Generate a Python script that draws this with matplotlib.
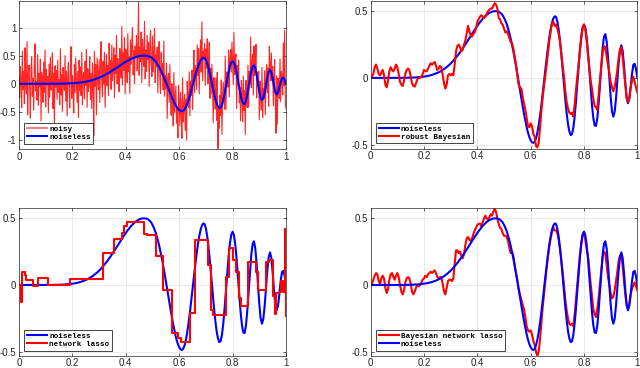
#!/usr/bin/env python3
"""
Noisy / noiseless signal and three reconstructions (2x2 panels, MATLAB look)
"""

import numpy as np
import matplotlib
matplotlib.use("Agg")
import matplotlib.pyplot as plt

# noiseless signal, sampled every 0.005 on [0, 1]
noiseless = [
    0, 0, 0, 0, 0, 0, 0, 0, 0, 0,
    0, 0, 0, 0, 0, 0, 0, 0, 0, 0,
    0.0003, 0.0004, 0.0005, 0.0006, 0.0007, 0.0009, 0.0011, 0.0013, 0.0015, 0.0017,
    0.002, 0.0024, 0.0028, 0.0034, 0.004, 0.0046, 0.0054, 0.0064, 0.0074, 0.0086,
    0.010, 0.0116, 0.0133, 0.0153, 0.0176, 0.0201, 0.0229, 0.0261, 0.0296, 0.0335,
    0.0377, 0.0425, 0.0476, 0.0533, 0.0595, 0.0661, 0.0734, 0.0813, 0.0896, 0.0986,
    0.108, 0.118, 0.129, 0.141, 0.153, 0.165, 0.178, 0.192, 0.206, 0.221,
    0.236, 0.251, 0.267, 0.282, 0.298, 0.314, 0.330, 0.346, 0.361, 0.376,
    0.391, 0.405, 0.418, 0.431, 0.443, 0.454, 0.464, 0.473, 0.480, 0.487,
    0.492, 0.496, 0.499, 0.500, 0.500, 0.499, 0.496, 0.490, 0.481, 0.469,
    0.451, 0.430, 0.404, 0.372, 0.336, 0.295, 0.249, 0.200, 0.146, 0.089,
    0.030, -0.031, -0.092, -0.153, -0.212, -0.269, -0.321, -0.369, -0.410, -0.443,
    -0.467, -0.482, -0.487, -0.478, -0.453, -0.411, -0.354, -0.285, -0.207, -0.120,
    -0.030, 0.061, 0.149, 0.231, 0.304, 0.366, 0.414, 0.446, 0.462, 0.458,
    0.424, 0.363, 0.279, 0.177, 0.063, -0.053, -0.165, -0.264, -0.345, -0.400,
    -0.428, -0.422, -0.374, -0.289, -0.174, -0.042, 0.092, 0.216, 0.314, 0.378,
    0.400, 0.375, 0.302, 0.193, 0.059, -0.079, -0.205, -0.301, -0.356, -0.360,
    -0.302, -0.191, -0.048, 0.101, 0.228, 0.309, 0.328, 0.274, 0.157, 0.004,
    -0.144, -0.251, -0.290, -0.254, -0.156, -0.023, 0.111, 0.209, 0.245, 0.203,
    0.095, -0.040, -0.148, -0.190, -0.156, -0.071, 0.029, 0.098, 0.106, 0.067,
    0.000,
]

# noisy observations, sampled every 0.0025 on [0, 1]
noisy = [
    0.12, -0.25, 0.31, 0.05, -0.42, 0.58, -0.1, 0.22, -0.35, 0.64, 0.02, -0.18, 0.75, -0.55, 0.15, 0.33, -0.08, -0.61, 0.27, 0.48,
    -0.22, 0.09, -0.47, 0.36, 0.71, -0.13, 0.04, -0.29, 0.52, -0.38, 0.18, -0.05, 0.44, -0.66, 0.21, 0.07, -0.33, 0.39, -0.16, 0.6,
    -0.41, 0.26, -0.02, 0.13, -0.52, 0.35, -0.24, 0.47, -0.11, 0.03, 0.55, -0.44, 0.19, -0.7, 0.32, -0.06, 0.24, -0.28, 0.42, -0.15,
    0.08, -0.37, 0.62, -0.2, 0.16, -0.49, 0.29, 0.01, -0.12, 0.5, -0.31, 0.23, -0.57, 0.11, 0.38, -0.09, -0.43, 0.27, 0.66, -0.26,
    0.15, -0.03, -0.52, 0.35, -0.16, 0.46, 0.08, -0.33, 0.22, -0.60, 0.42, -0.12, 0.30, -0.21, 0.56, -0.37, 0.13, 0.20, -0.27, 0.40,
    -0.03, 0.61, -0.42, 0.27, -0.14, 0.09, 0.48, -0.28, 0.18, -0.44, 0.37, 0.06, -0.92, 0.57, -0.04, 0.34, -0.55, 0.46, 0.19, -0.11,
    0.43, -0.33, 0.30, 0.75, 0.05, -0.23, 0.40, 0.00, 0.56, -0.42, 0.24, 0.52, -0.04, 0.33, -0.21, 0.72, 0.16, 0.42, -0.10, 0.69,
    0.06, 0.27, 0.64, -0.25, 0.51, 0.18, 0.86, 0.00, 0.45, 0.28, -0.14, 0.63, 0.41, 0.10, 1.02, -0.02, 0.55, 0.24, 0.82, -0.18,
    0.62, 0.51, 0.02, 0.89, 0.22, 0.48, -0.17, 0.78, 0.35, 0.72, 1.00, 0.16, 0.59, 0.00, 0.67, 0.46, 0.86, 0.23, 0.55, 1.45,
    0.15, 0.65, 0.39, 0.92, 0.02, 0.79, 0.52, 0.31, 1.11, 0.09, 0.60, 0.22, 0.86, 0.43, 0.74, -0.05, 0.66, 0.95, 0.33, 0.13,
    0.85, 0.21, 0.50, 0.98, 0.02, 0.51, 0.30, 0.65, -0.16, 0.54, 0.75, 0.10, -0.17, 0.56, 0.16, 0.36, -0.11, 0.76, -0.22, 0.15,
    -0.09, 0.37, -0.62, 0.09, 0.19, -0.33, 0.34, -0.26, -0.56, 0.00, -0.23, -0.75, 0.20, -0.51, -0.26, -0.04, -0.70, -0.41, -0.96, -0.03,
    -0.30, -0.75, -0.15, -0.52, -0.97, 0.11, -0.68, -0.39, -0.19, -0.83, -0.27, -1.00, 0.04, -0.27, -0.42, 0.21, -0.57, 0.05, -0.21, 0.24,
    -0.46, 0.12, 0.60, -0.15, 0.33, 0.13, -0.10, 0.69, 0.15, 0.63, -0.18, 0.42, 0.78, 0.21, 1.10, 0.06, 0.58, 0.44, 0.71, -0.03,
    0.62, 0.28, 0.80, 0.00, 0.34, 0.74, -0.26, 0.28, -0.18, 0.35, -0.10, -0.69, 0.11, -0.09, -0.45, 0.10, -0.65, 0.20, -1.15, -0.40,
    -0.79, -0.20, -0.56, 0.07, -0.90, -0.24, 0.03, -0.30, -0.45, 0.49, -0.46, 0.21, 0.14, -0.06, 0.60, -0.23, 0.45, 0.61, 0.21, 0.74,
    0.36, -0.01, 0.91, 0.16, 0.41, 0.53, -0.44, 0.33, -0.02, 0.42, -0.34, -0.07, -0.66, 0.06, -0.15, -0.67, 0.14, -0.48, -0.12, -0.90,
    0.06, -0.23, -0.42, 0.33, -0.42, 0.22, 0.00, 0.83, -0.07, 0.35, 0.53, -0.20, 0.67, 0.15, 0.31, 0.70, -0.25, 0.21, -0.03, 0.22,
    -0.64, 0.05, -0.15, -0.47, 0.29, -0.60, -0.08, -0.27, 0.23, -0.55, 0.01, 0.34, -0.16, 0.28, -0.40, 0.67, 0.32, 0.06, 0.55, 0.06,
    0.31, -0.39, 0.10, 0.43, -0.39, -0.88, 0.14, -0.72, 0.10, -0.02, -0.26, 0.44, -0.32, 0.22, 0.12, -0.20, 0.73, -0.04, 0.95, -0.35,
    -0.45,
]

# robust Bayesian estimate, every 0.005
robust_bayes = [
    0.00, 0.01, 0.03, 0.08, 0.10, 0.07, 0.03, 0.02, 0.04, 0.06,
    0.02, -0.05, -0.07, -0.02, 0.05, 0.08, 0.06, 0.05, 0.07, 0.10,
    0.08, 0.03, -0.03, -0.05, -0.06, -0.02, 0.03, 0.06, 0.07, 0.06,
    0.01, -0.04, -0.06, -0.065, -0.04, -0.01, 0.00, 0.00, 0.01, 0.03,
    0.06, 0.05, 0.05, 0.07, 0.09, 0.11, 0.10, 0.11, 0.12, 0.09,
    0.06, 0.07, 0.09, 0.08, 0.02, -0.04, -0.08, -0.05, 0.02, 0.03,
    0.02, 0.03, 0.02, 0.10, 0.20, 0.24, 0.25, 0.23, 0.20, 0.21,
    0.25, 0.28, 0.33, 0.39, 0.35, 0.32, 0.31, 0.33, 0.34, 0.37,
    0.42, 0.44, 0.46, 0.47, 0.46, 0.45, 0.46, 0.48, 0.50, 0.51,
    0.52, 0.52, 0.54, 0.56, 0.55, 0.52, 0.45, 0.44, 0.41, 0.40,
    0.37, 0.34, 0.35, 0.33, 0.30, 0.27, 0.26, 0.22, 0.16, 0.10,
    0.02, -0.05, -0.07, -0.08, -0.14, -0.19, -0.24, -0.30, -0.36, -0.37,
    -0.34, -0.36, -0.42, -0.44, -0.51, -0.52, -0.49, -0.38, -0.25, -0.15,
    -0.06, 0.02, 0.10, 0.19, 0.28, 0.35, 0.41, 0.42, 0.39, 0.40,
    0.37, 0.33, 0.27, 0.18, 0.09, 0.01, -0.10, -0.18, -0.23, -0.26,
    -0.27, -0.26, -0.29, -0.20, -0.09, 0.01, 0.11, 0.21, 0.30, 0.38,
    0.40, 0.37, 0.28, 0.17, 0.08, -0.02, -0.08, -0.16, -0.21, -0.22,
    -0.24, -0.12, -0.01, 0.09, 0.19, 0.24, 0.23, 0.16, 0.10, 0.04,
    -0.03, -0.07, -0.10, -0.07, -0.01, 0.06, 0.15, 0.21, 0.23, 0.15,
    0.05, -0.05, -0.15, -0.18, -0.15, -0.07, -0.02, 0.01, -0.03, -0.07,
    -0.11,
]

# Bayesian network lasso estimate, every 0.005
bayes_lasso = [
    0.00, 0.01, 0.04, 0.07, 0.09, 0.08, 0.03, 0.01, 0.05, 0.07,
    0.05, -0.02, -0.06, -0.03, 0.04, 0.08, 0.09, 0.06, 0.04, 0.07,
    0.09, 0.06, 0.00, -0.05, -0.07, -0.04, 0.02, 0.05, 0.06, 0.05,
    0.01, -0.05, -0.07, -0.05, -0.02, 0.00, -0.01, 0.00, 0.02, 0.04,
    0.05, 0.07, 0.06, 0.08, 0.09, 0.10, 0.09, 0.10, 0.11, 0.09,
    0.06, 0.05, 0.06, 0.06, 0.01, -0.05, -0.07, -0.02, 0.03, 0.04,
    0.04, 0.03, 0.05, 0.16, 0.26, 0.26, 0.24, 0.25, 0.22, 0.20,
    0.23, 0.30, 0.35, 0.36, 0.34, 0.33, 0.35, 0.38, 0.41, 0.43,
    0.45, 0.46, 0.46, 0.44, 0.47, 0.50, 0.52, 0.50, 0.49, 0.51,
    0.53, 0.52, 0.55, 0.57, 0.55, 0.50, 0.46, 0.43, 0.42, 0.39,
    0.37, 0.37, 0.36, 0.33, 0.28, 0.24, 0.25, 0.22, 0.15, 0.09,
    0.04, -0.03, -0.07, -0.11, -0.15, -0.18, -0.24, -0.31, -0.34, -0.35,
    -0.34, -0.37, -0.42, -0.45, -0.50, -0.53, -0.50, -0.41, -0.29, -0.17,
    -0.07, 0.03, 0.13, 0.21, 0.29, 0.35, 0.40, 0.43, 0.41, 0.41,
    0.39, 0.34, 0.27, 0.19, 0.10, 0.00, -0.11, -0.19, -0.25, -0.29,
    -0.30, -0.29, -0.31, -0.22, -0.10, 0.01, 0.12, 0.23, 0.31, 0.38,
    0.40, 0.34, 0.27, 0.22, 0.12, 0.01, -0.08, -0.18, -0.22, -0.24,
    -0.18, -0.09, 0.01, 0.11, 0.21, 0.25, 0.24, 0.15, 0.06, 0.00,
    -0.06, -0.10, -0.09, -0.04, 0.03, 0.10, 0.18, 0.22, 0.23, 0.14,
    0.03, -0.07, -0.15, -0.18, -0.14, -0.07, -0.03, 0.00, 0.02, -0.01,
    -0.04,
]

# network lasso: piecewise constant, (step start, level)
lasso_x = [0.000, 0.006, 0.008, 0.011, 0.023, 0.027, 0.054, 0.073, 0.110, 0.191,
           0.315, 0.355, 0.384, 0.393, 0.405, 0.468, 0.480, 0.512, 0.540, 0.572,
           0.597, 0.607, 0.641, 0.658, 0.709, 0.720, 0.728, 0.775, 0.788, 0.803,
           0.813, 0.823, 0.830, 0.858, 0.888, 0.895, 0.925, 0.935, 0.952, 0.957,
           0.963, 0.972, 0.980, 0.990, 0.998, 1.000]
lasso_y = [0.00, -0.02, -0.125, 0.10, 0.075, 0.04, -0.01, 0.055, 0.00, 0.045,
           0.24, 0.345, 0.39, 0.44, 0.47, 0.385, 0.375, 0.22, -0.04, -0.36,
           -0.40, -0.425, -0.21, 0.34, 0.15, -0.19, -0.225, 0.06, 0.275, 0.19,
           0.10, -0.10, -0.155, 0.175, 0.10, -0.04, 0.175, 0.19, -0.08, -0.22,
           -0.06, -0.05, 0.03, -0.05, 0.42, -0.23]

x_ticks = [0, 0.2, 0.4, 0.6, 0.8, 1]
x_ticklabels = ['0', '0.2', '0.4', '0.6', '0.8', '1']


def style_axes(ax, yticks, ylim):
    ax.set_xlim(0, 1)
    ax.set_ylim(*ylim)
    ax.set_xticks(x_ticks)
    ax.set_xticklabels(x_ticklabels)
    ax.set_yticks(yticks)
    ax.set_yticklabels([('%g' % v) for v in yticks])
    ax.grid(True, color='#e6e6e6', linewidth=0.6)
    ax.set_axisbelow(True)
    ax.tick_params(direction='in', length=2.5, width=0.5, top=True, right=True,
                   labelsize=7, colors='#262626', pad=2)
    for s in ax.spines.values():
        s.set_linewidth(0.5)
        s.set_color('#262626')


def add_legend(ax):
    leg = ax.legend(loc='lower left', bbox_to_anchor=(0.02, 0.035), borderaxespad=0,
                    prop={'family': 'Liberation Mono', 'weight': 'bold', 'size': 5.5},
                    fancybox=False, framealpha=1, edgecolor='#262626',
                    handlelength=2.6, handletextpad=0.3, borderpad=0.35, labelspacing=0.1)
    leg.get_frame().set_linewidth(0.6)
    return leg


plt.rcParams['font.family'] = ['Liberation Sans', 'DejaVu Sans']
plt.rcParams['axes.unicode_minus'] = False

fig = plt.figure(figsize=(6.4, 3.68), dpi=100)
ax1 = fig.add_axes([0.0297, 0.595, 0.4172, 0.4036])
ax2 = fig.add_axes([0.5792, 0.596, 0.4166, 0.4026])
ax3 = fig.add_axes([0.0297, 0.0334, 0.4172, 0.4022])
ax4 = fig.add_axes([0.5792, 0.0334, 0.4166, 0.4022])

xs = np.linspace(0, 1, len(noiseless))
xn = np.linspace(0, 1, len(noisy))
small_ylim = (-0.53, 0.58)

ax1.plot(xn, noisy, color='red', alpha=0.85, linewidth=0.8, label='noisy')
ax1.plot(xs, noiseless, color='blue', linewidth=1.5, label='noiseless')
style_axes(ax1, [-1, -0.5, 0, 0.5, 1], (-1.16, 1.48))
leg1 = add_legend(ax1)
leg1.legend_handles[0].set_alpha(0.5)
leg1.legend_handles[0].set_linewidth(1.5)

ax2.plot(xs, noiseless, color='blue', linewidth=1.5, label='noiseless')
ax2.plot(xs, robust_bayes, color='red', linewidth=1.5, label='robust Bayesian')
style_axes(ax2, [-0.5, 0, 0.5], small_ylim)
add_legend(ax2)

ax3.plot(xs, noiseless, color='blue', linewidth=1.5, label='noiseless')
ax3.plot(lasso_x, lasso_y, color='red', linewidth=1.5, drawstyle='steps-post',
         label='network lasso')
style_axes(ax3, [-0.5, 0, 0.5], small_ylim)
add_legend(ax3)

ax4.plot(xs, bayes_lasso, color='red', linewidth=1.5, label='Bayesian network lasso')
ax4.plot(xs, noiseless, color='blue', linewidth=1.5, label='noiseless')
style_axes(ax4, [-0.5, 0, 0.5], small_ylim)
add_legend(ax4)

fig.savefig('out.png', dpi=100)
